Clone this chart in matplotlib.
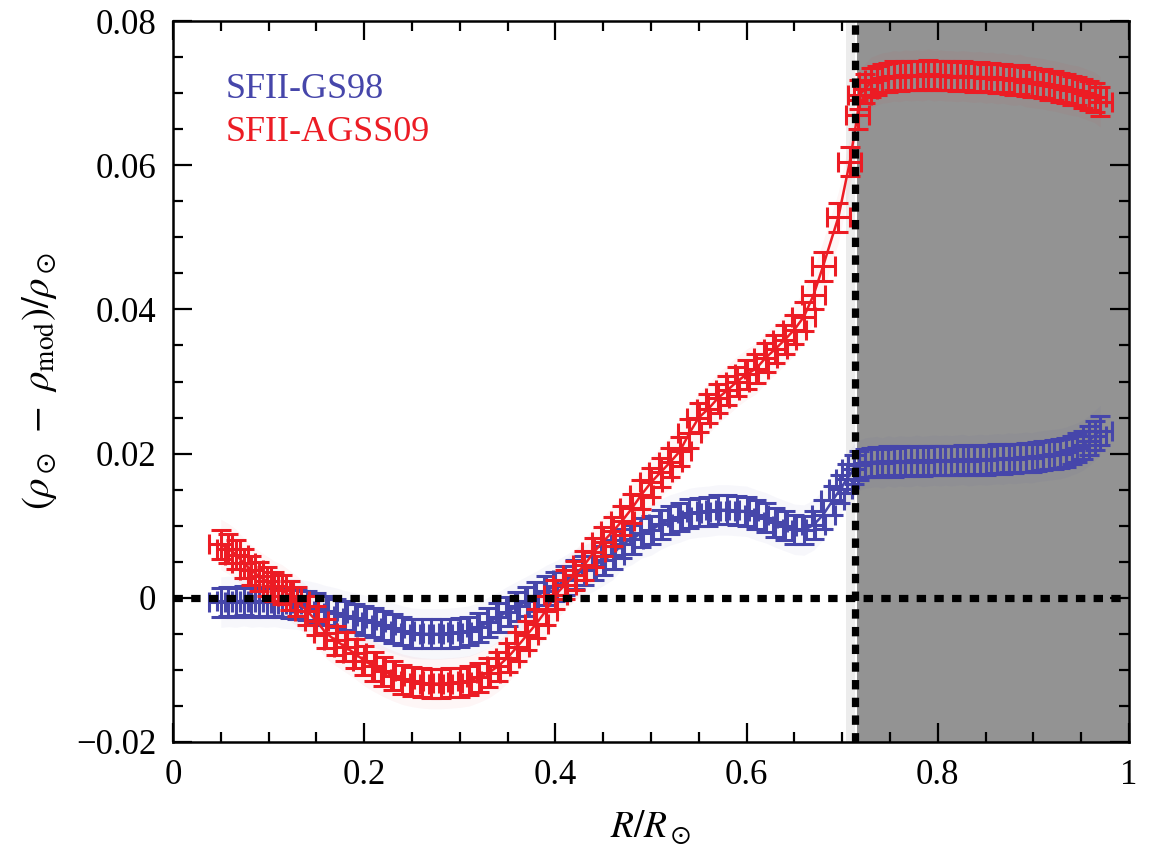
import matplotlib
matplotlib.use("Agg")
import matplotlib.pyplot as plt
from matplotlib.ticker import MultipleLocator, FuncFormatter
import numpy as np

plt.rcParams['font.family'] = ['Liberation Serif', 'DejaVu Serif']
plt.rcParams['mathtext.fontset'] = 'stix'

# Radial positions (fraction of solar radius)
r_rad = [0.050, 0.058, 0.066, 0.074, 0.082, 0.090, 0.098, 0.106, 0.114, 0.122,
         0.130, 0.140, 0.150, 0.160, 0.170, 0.180, 0.190, 0.200, 0.210, 0.220,
         0.230, 0.240, 0.250, 0.260, 0.270, 0.280, 0.290, 0.300, 0.310, 0.320,
         0.330, 0.340, 0.350, 0.360, 0.370, 0.380, 0.390, 0.400, 0.410, 0.420,
         0.430, 0.440, 0.450, 0.460, 0.470, 0.480, 0.490, 0.500, 0.510, 0.520,
         0.530, 0.540, 0.550, 0.560, 0.570, 0.580, 0.590, 0.600, 0.610, 0.620,
         0.630, 0.640, 0.650, 0.660, 0.670, 0.680, 0.690, 0.698, 0.705, 0.712]
r_conv = [0.718, 0.724, 0.730, 0.736, 0.742, 0.748, 0.754, 0.760, 0.766, 0.772,
          0.778, 0.784, 0.790, 0.796, 0.802, 0.808, 0.814, 0.820, 0.826, 0.832,
          0.838, 0.844, 0.850, 0.856, 0.862, 0.868, 0.874, 0.880, 0.886, 0.892,
          0.898, 0.904, 0.910, 0.916, 0.922, 0.928, 0.934, 0.940, 0.946, 0.952,
          0.958, 0.964, 0.970]

# Relative density differences, SFII with GS98 composition
gs98_rad = [-0.0006, -0.0005, -0.0006, -0.0004, -0.0006, -0.0005, -0.0006, -0.0005, -0.0007, -0.0008,
            -0.0009, -0.0011, -0.0014, -0.0018, -0.0021, -0.0025, -0.0028, -0.0031, -0.0034, -0.0038,
            -0.0042, -0.0046, -0.0049, -0.0050, -0.0050, -0.0050, -0.0049, -0.0048, -0.0046, -0.0041,
            -0.0034, -0.0027, -0.0019, -0.0012, -0.0005, 0.0002, 0.0010, 0.0016, 0.0024, 0.0032,
            0.0038, 0.0044, 0.0052, 0.0060, 0.0075, 0.0081, 0.0090, 0.0094, 0.0102, 0.0108,
            0.0112, 0.0117, 0.0119, 0.0120, 0.0122, 0.0122, 0.0121, 0.0120, 0.0115, 0.0111,
            0.0105, 0.0100, 0.0095, 0.0094, 0.0101, 0.0115, 0.0135, 0.0151, 0.0165, 0.0178]
gs98_conv = [0.0184, 0.0187, 0.0188, 0.0189, 0.0187, 0.0190, 0.0188, 0.0190, 0.0189, 0.0189,
             0.0191, 0.0189, 0.0190, 0.0191, 0.0190, 0.0191, 0.0190, 0.0191, 0.0192, 0.0190,
             0.0191, 0.0192, 0.0191, 0.0192, 0.0193, 0.0192, 0.0194, 0.0193, 0.0194, 0.0195,
             0.0194, 0.0196, 0.0197, 0.0198, 0.0199, 0.0200, 0.0202, 0.0205, 0.0208, 0.0212,
             0.0218, 0.0225, 0.0232]

# Relative density differences, SFII with AGSS09 composition
r_agss_rad = r_rad[:-4] + [0.696, 0.708, 0.716]
agss_rad = [0.0074, 0.0068, 0.0060, 0.0048, 0.0038, 0.0030, 0.0023, 0.0016, 0.0011, 0.0003,
            -0.0005, -0.0018, -0.0032, -0.0049, -0.0059, -0.0068, -0.0077, -0.0087, -0.0095, -0.0102,
            -0.0108, -0.0113, -0.0116, -0.0118, -0.0119, -0.0119, -0.0118, -0.0117, -0.0115, -0.0110,
            -0.0104, -0.0095, -0.0083, -0.0068, -0.0052, -0.0036, -0.0018, 0.0004, 0.0018, 0.0031,
            0.0045, 0.0063, 0.0078, 0.0092, 0.0107, 0.0124, 0.0143, 0.0160, 0.0174, 0.0188,
            0.0203, 0.0228, 0.0250, 0.0262, 0.0277, 0.0288, 0.0300, 0.0310, 0.0318, 0.0333,
            0.0345, 0.0358, 0.0372, 0.0390, 0.0420, 0.0460, 0.0528, 0.0605, 0.0670]
agss_conv = [0.0698, 0.0706, 0.0715, 0.0718, 0.0721, 0.0722, 0.0724, 0.0723, 0.0725, 0.0724,
             0.0725, 0.0724, 0.0726, 0.0724, 0.0725, 0.0724, 0.0724, 0.0723, 0.0724, 0.0723,
             0.0722, 0.0723, 0.0721, 0.0722, 0.0720, 0.0721, 0.0719, 0.0718, 0.0719, 0.0716,
             0.0715, 0.0714, 0.0713, 0.0711, 0.0710, 0.0708, 0.0706, 0.0704, 0.0703, 0.0700,
             0.0697, 0.0694, 0.0688]

r_err = 0.012
rho_err = 0.0020

blue = '#4646aa'
red = '#ec1c24'

fig = plt.figure(figsize=(11.51, 8.58), dpi=100)
ax = fig.add_axes([0.1503, 0.1352, 0.8306, 0.8403])

r_base = 0.713
ax.axvspan(0.704, r_base, color='#ececec', lw=0, zorder=0)
ax.axvspan(0.7155, 1.0, color='#939393', lw=0, zorder=0)

series = [
    (r_rad + r_conv, gs98_rad + gs98_conv, blue),
    (r_agss_rad + r_conv, agss_rad + agss_conv, red),
]
for rr, vv, col in series:
    rr = np.array(rr)
    vv = np.array(vv)
    ax.fill_between(rr, vv - 0.0035, vv + 0.0035, color=col, alpha=0.04, lw=0, zorder=1)
    ax.plot(rr, vv, color=col, lw=1.8, zorder=3)
    ax.errorbar(rr, vv, xerr=r_err, yerr=rho_err, fmt='none', ecolor=col,
                elinewidth=2.2, capsize=7, capthick=2.2, zorder=3)

dot = (0, (1.3, 1.15))
ax.axhline(0.0, color='black', lw=5.2, ls=dot, zorder=4)
ax.axvline(r_base, color='black', lw=5.2, ls=dot, zorder=4)

ax.set_xlim(0, 1)
ax.set_ylim(-0.02, 0.08)
ax.xaxis.set_major_locator(MultipleLocator(0.2))
ax.xaxis.set_minor_locator(MultipleLocator(0.05))
ax.yaxis.set_major_locator(MultipleLocator(0.02))
ax.yaxis.set_minor_locator(MultipleLocator(0.005))
ax.xaxis.set_major_formatter(FuncFormatter(
    lambda v, p: '0' if abs(v) < 1e-9 else ('1' if abs(v - 1) < 1e-9 else f'{v:.1f}')))
ax.yaxis.set_major_formatter(FuncFormatter(
    lambda v, p: '0' if abs(v) < 1e-9 else f'{v:.2f}'.replace('-', '\u2212')))
ax.tick_params(which='both', direction='in', top=True, right=True, width=1.6, labelsize=25)
ax.tick_params(which='major', length=14, pad=12)
ax.tick_params(which='minor', length=7)
for s in ax.spines.values():
    s.set_linewidth(1.8)

ax.set_xlabel(r'$R/R_\odot$', fontsize=27, labelpad=12)
ax.set_ylabel(r'$(\rho_\odot\ -\ \rho_{\rm mod})/\rho_\odot$', fontsize=28, labelpad=12)

ax.text(0.055, 0.905, 'SFII-GS98', color=blue, fontsize=26, transform=ax.transAxes, va='center')
ax.text(0.055, 0.845, 'SFII-AGSS09', color=red, fontsize=26, transform=ax.transAxes, va='center')

fig.savefig('out.png', dpi=100)
